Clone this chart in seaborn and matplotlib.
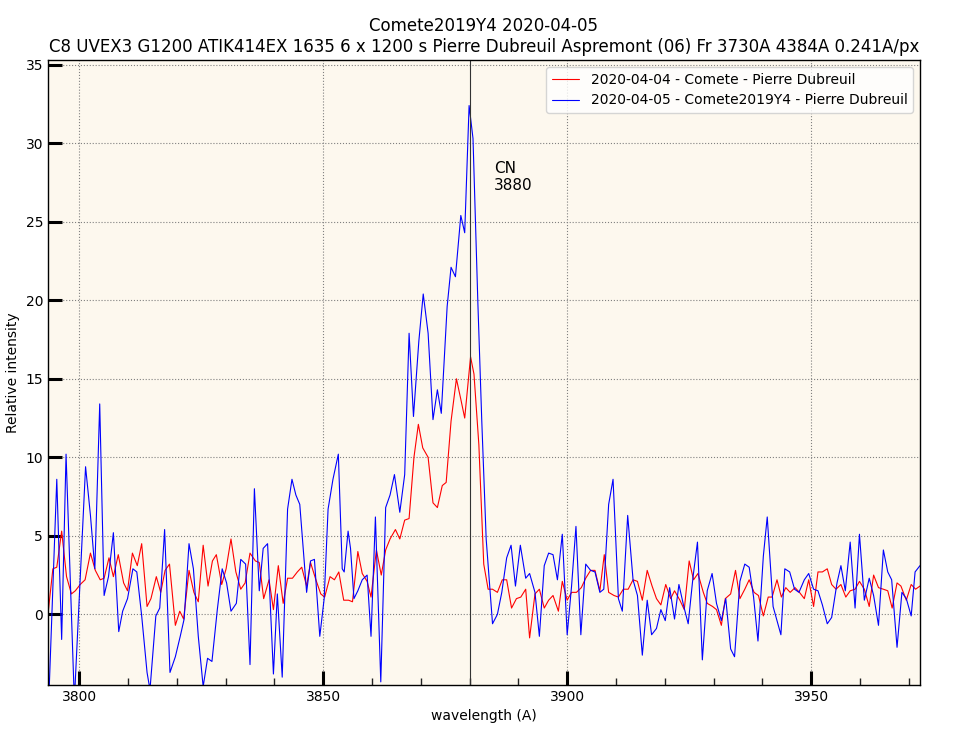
import numpy as np
import pandas as pd
import matplotlib
matplotlib.use("Agg")
import matplotlib.pyplot as plt
import seaborn as sns

# STYLE
sns.set_style("ticks")
plt.rcParams.update({
    "font.family": ["DejaVu Sans"],
    "font.size": 10,
    "axes.titlesize": 12,
    "axes.labelsize": 10,
    "xtick.labelsize": 10,
    "ytick.labelsize": 10,
    "legend.fontsize": 10,
    "text.color": "black",
    "axes.labelcolor": "black",
    "xtick.color": "black",
    "ytick.color": "black",
})

# DATA
RED_LABEL = "2020-04-04 - Comete - Pierre Dubreuil"
BLUE_LABEL = "2020-04-05 - Comete2019Y4 - Pierre Dubreuil"

red_wave = [
    3793.7, 3794.6, 3795.4, 3796.4, 3797.4, 3798.4, 3799.2, 3800.2, 3801.2, 3802.3,
    3803.3, 3804.3, 3805.1, 3806.1, 3807.0, 3808.0, 3809.1, 3809.9, 3810.9, 3811.9,
    3812.8, 3813.9, 3814.7, 3815.8, 3816.7, 3817.6, 3818.5, 3819.7, 3820.6, 3821.4,
    3822.5, 3823.5, 3824.4, 3825.4, 3826.4, 3827.3, 3828.1, 3829.2, 3830.1, 3831.1,
    3832.1, 3833.1, 3834.0, 3835.0, 3836.1, 3836.9, 3837.8, 3838.9, 3839.8, 3840.8,
    3841.8, 3842.7, 3843.7, 3844.7, 3845.6, 3846.6, 3847.4, 3848.5, 3849.5, 3850.3,
    3851.4, 3852.3, 3853.2, 3854.2, 3855.2, 3856.0, 3857.1, 3858.0, 3859.0, 3859.8,
    3860.9, 3861.9, 3862.8, 3863.7, 3864.8, 3865.7, 3866.7, 3867.6, 3868.6, 3869.5,
    3870.4, 3871.5, 3872.5, 3873.4, 3874.4, 3875.2, 3876.2, 3877.3, 3878.2, 3879.0,
    3880.2, 3880.9, 3881.9, 3882.9, 3883.8, 3884.7, 3885.7, 3886.7, 3887.6, 3888.6,
    3889.6, 3890.5, 3891.5, 3892.3, 3893.4, 3894.3, 3895.3, 3896.2, 3897.1, 3898.2,
    3899.0, 3900.0, 3900.9, 3901.9, 3902.9, 3903.8, 3904.8, 3905.7, 3906.7, 3907.6,
    3908.5, 3909.6, 3910.5, 3911.5, 3912.5, 3913.5, 3914.4, 3915.4, 3916.4, 3917.4,
    3918.3, 3919.2, 3920.2, 3921.2, 3922.0, 3923.1, 3924.0, 3925.0, 3925.9, 3926.8,
    3927.9, 3928.7, 3929.8, 3930.6, 3931.6, 3932.4, 3933.5, 3934.5, 3935.4, 3936.4,
    3937.3, 3938.3, 3939.2, 3940.2, 3941.2, 3942.0, 3943.0, 3943.9, 3944.8, 3945.7,
    3946.7, 3947.6, 3948.6, 3949.5, 3950.5, 3951.4, 3952.3, 3953.3, 3954.2, 3955.1,
    3956.1, 3957.1, 3958.0, 3959.0, 3959.9, 3960.9, 3961.9, 3962.8, 3963.8, 3964.8,
    3965.7, 3966.6, 3967.6, 3968.4, 3969.5, 3970.5, 3971.4, 3972.3,
]
red_flux = [
    0.3, 2.9, 3.0, 5.3, 2.4, 1.3, 1.5, 1.9, 2.2, 3.9,
    2.8, 2.2, 2.3, 3.6, 2.4, 3.8, 2.0, 1.5, 3.9, 3.1,
    4.5, 0.5, 1.0, 2.4, 1.4, 2.8, 3.2, -0.7, 0.2, -0.3,
    2.8, 1.4, 0.8, 4.4, 1.8, 3.4, 3.8, 1.9, 2.9, 4.8,
    2.7, 1.6, 2.0, 3.9, 3.4, 3.3, 1.0, 2.2, 0.3, 3.1,
    0.7, 2.3, 2.3, 2.7, 3.0, 1.8, 3.3, 2.2, 1.3, 1.1,
    2.4, 2.2, 2.7, 0.9, 0.9, 0.8, 4.0, 2.6, 2.1, 1.1,
    4.1, 2.5, 4.1, 4.8, 5.4, 4.8, 6.0, 6.1, 10.0, 12.1,
    10.6, 10.0, 7.1, 6.8, 8.2, 8.4, 12.3, 15.0, 13.7, 12.5,
    16.4, 15.3, 10.8, 3.2, 1.6, 1.6, 1.4, 2.2, 2.2, 0.4,
    1.0, 1.1, 1.6, -1.5, 1.3, 1.6, 0.4, 0.9, 1.2, 0.2,
    2.1, 0.9, 1.4, 1.4, 1.7, 2.3, 2.8, 2.8, 1.5, 3.8,
    1.4, 1.2, 1.1, 1.6, 1.6, 2.2, 2.1, 0.9, 2.8, 1.8,
    1.0, 0.6, 1.9, 1.0, 1.5, 0.9, 0.3, 3.4, 2.2, 2.6,
    1.4, 0.7, 0.5, 0.3, -0.7, 1.0, 1.3, 2.8, 1.0, 1.6,
    2.2, 1.4, 1.2, -0.1, 1.1, 1.1, 2.2, 1.1, 1.7, 1.4,
    1.7, 1.4, 1.0, 2.2, 0.5, 2.7, 2.7, 2.9, 1.9, 1.6,
    1.9, 1.1, 1.5, 1.6, 2.1, 1.6, 0.5, 2.5, 1.7, 1.6,
    1.5, 0.4, 2.0, 1.8, 0.9, 1.9, 1.6, 1.8,
]

blue_wave = [
    3793.7, 3795.4, 3796.4, 3797.3, 3799.0, 3801.3, 3802.3, 3803.2, 3804.2, 3805.1,
    3806.0, 3807.0, 3808.1, 3808.9, 3809.9, 3811.0, 3811.8, 3812.8, 3813.9, 3814.5,
    3815.7, 3816.5, 3817.5, 3818.6, 3819.7, 3820.7, 3821.5, 3822.5, 3823.4, 3824.4,
    3825.4, 3826.3, 3827.2, 3828.3, 3829.3, 3830.2, 3831.1, 3832.2, 3833.1, 3834.1,
    3835.0, 3835.9, 3836.9, 3837.7, 3838.6, 3839.8, 3840.6, 3841.6, 3842.7, 3843.6,
    3844.4, 3845.2, 3846.6, 3847.4, 3848.2, 3849.3, 3850.2, 3851.0, 3852.0, 3853.1,
    3853.9, 3854.3, 3855.1, 3855.6, 3856.3, 3857.1, 3858.0, 3859.0, 3859.8, 3860.7,
    3861.8, 3862.8, 3863.7, 3864.6, 3865.7, 3866.7, 3867.6, 3868.5, 3869.6, 3870.5,
    3871.5, 3872.5, 3873.4, 3874.2, 3875.4, 3876.2, 3877.1, 3878.2, 3879.0, 3879.9,
    3880.7, 3881.7, 3882.5, 3883.4, 3884.7, 3885.7, 3886.6, 3887.6, 3888.5, 3889.4,
    3890.4, 3891.5, 3892.3, 3893.4, 3894.3, 3895.3, 3896.2, 3897.1, 3898.0, 3899.0,
    3900.0, 3900.9, 3901.8, 3902.8, 3903.8, 3904.8, 3905.7, 3906.7, 3907.5, 3908.5,
    3909.4, 3910.5, 3911.3, 3912.4, 3913.5, 3914.4, 3915.4, 3916.4, 3917.3, 3918.3,
    3919.2, 3920.1, 3921.0, 3922.0, 3922.9, 3923.9, 3924.8, 3925.8, 3926.7, 3927.7,
    3928.7, 3929.7, 3930.6, 3931.6, 3932.5, 3933.5, 3934.3, 3935.4, 3936.4, 3937.3,
    3938.2, 3939.1, 3940.2, 3941.0, 3942.2, 3943.8, 3944.6, 3945.6, 3946.6, 3947.5,
    3948.6, 3949.5, 3950.5, 3951.4, 3952.3, 3953.3, 3954.2, 3955.3, 3956.1, 3957.0,
    3958.0, 3959.0, 3959.9, 3960.9, 3961.9, 3962.8, 3963.8, 3964.8, 3965.7, 3966.5,
    3967.6, 3968.6, 3969.5, 3970.5, 3971.3, 3972.3,
]
blue_flux = [
    -6.0, 8.6, -1.6, 10.2, -5.5, 9.4, 6.3, 2.9, 13.4, 1.2,
    2.4, 5.2, -1.1, 0.2, 1.0, 2.9, 2.7, -0.1, -3.7, -4.8,
    -0.1, 0.4, 5.4, -3.7, -2.7, -1.4, -0.3, 4.5, 2.9, -1.4,
    -4.6, -2.8, -3.0, 0.3, 2.9, 2.0, 0.2, 0.7, 3.5, 3.2,
    -3.2, 8.0, 1.5, 4.2, 4.5, -3.8, 1.3, -4.0, 6.7, 8.6,
    7.6, 7.0, 1.4, 3.4, 3.5, -1.4, 1.0, 6.7, 8.6, 10.2,
    2.9, 2.7, 5.3, 4.2, 1.0, 1.5, 2.2, 2.5, -1.4, 6.2,
    -4.3, 6.8, 7.6, 8.9, 6.5, 8.9, 17.9, 12.6, 17.4, 20.4,
    17.9, 12.4, 14.3, 12.8, 19.6, 22.1, 21.5, 25.4, 24.3, 32.4,
    30.3, 19.8, 12.3, 4.8, -0.6, 0.0, 1.4, 3.6, 4.4, 1.8,
    4.4, 2.3, 2.6, 1.4, -1.4, 3.1, 3.9, 3.8, 2.2, 5.1,
    -1.3, 1.8, 5.6, -1.3, 3.2, 2.8, 2.7, 1.4, 1.6, 7.0,
    8.6, 1.0, 0.2, 6.3, 2.2, 1.2, -2.6, 0.9, -1.3, -0.9,
    0.3, -0.4, 1.7, -0.3, 1.9, 0.5, -0.6, 2.4, 4.6, -2.9,
    1.5, 2.6, 0.7, -0.4, 1.0, -2.2, -2.7, 2.1, 3.2, 3.0,
    1.1, -1.7, 3.7, 6.2, 0.5, -1.3, 2.9, 2.7, 1.6, 1.4,
    2.2, 2.6, 1.6, 1.5, 0.6, -0.6, -0.2, 2.0, 3.1, 1.5,
    4.6, 0.4, 5.1, 0.9, 2.3, 1.2, -0.7, 4.1, 2.7, 2.2,
    -2.1, 1.4, 1.0, -0.1, 2.7, 3.1,
]

TITLE = ("Comete2019Y4 2020-04-05\n"
         "C8 UVEX3 G1200 ATIK414EX 1635 6 x 1200 s Pierre Dubreuil "
         "Aspremont (06) Fr 3730A 4384A 0.241A/px")
LINE_WAVE = 3880
LINE_NAME = "CN\n3880"


def build_frame():
    red = pd.DataFrame({"wavelength": red_wave, "flux": red_flux, "series": RED_LABEL})
    blue = pd.DataFrame({"wavelength": blue_wave, "flux": blue_flux, "series": BLUE_LABEL})
    return pd.concat([red, blue], ignore_index=True)


def plot(df):
    fig = plt.figure(figsize=(9.58, 7.53), dpi=100)
    ax = fig.add_axes([0.0501, 0.0903, 0.9102, 0.8300])
    ax.set_facecolor("#fdf8ee")

    sns.lineplot(
        data=df, x="wavelength", y="flux", hue="series",
        palette={RED_LABEL: "red", BLUE_LABEL: "blue"},
        estimator=None, sort=False, linewidth=0.8, ax=ax
    )

    ax.axvline(LINE_WAVE, color="#333333", linewidth=0.8)
    ax.text(3885, 27, LINE_NAME, fontsize=11, va="baseline", color="black")

    ax.set_xlim(3793.6, 3972.3)
    ax.set_ylim(-4.5, 35.3)
    ax.set_xticks(np.arange(3800, 3951, 50))
    ax.set_xticks(np.arange(3800, 3971, 10), minor=True)
    ax.set_yticks(np.arange(0, 36, 5))

    ax.grid(True, which="major", linestyle=":", color="#808080", linewidth=0.8)
    ax.tick_params(which="major", direction="in", length=10, width=2.2, color="black")
    ax.tick_params(which="minor", direction="in", length=5, width=1, color="#222222")
    ax.tick_params(axis="y", which="minor", length=0)
    for sp in ax.spines.values():
        sp.set_visible(True)
        sp.set_color("black")
        sp.set_linewidth(1)

    ax.set_xlabel("wavelength (A)")
    ax.set_ylabel("Relative intensity")
    ax.set_title(TITLE, fontsize=12, color="black")

    leg = ax.legend(loc="upper right", frameon=True)
    leg.set_title(None)

    fig.savefig("out.png", dpi=100)
    plt.close(fig)


if __name__ == "__main__":
    plot(build_frame())
